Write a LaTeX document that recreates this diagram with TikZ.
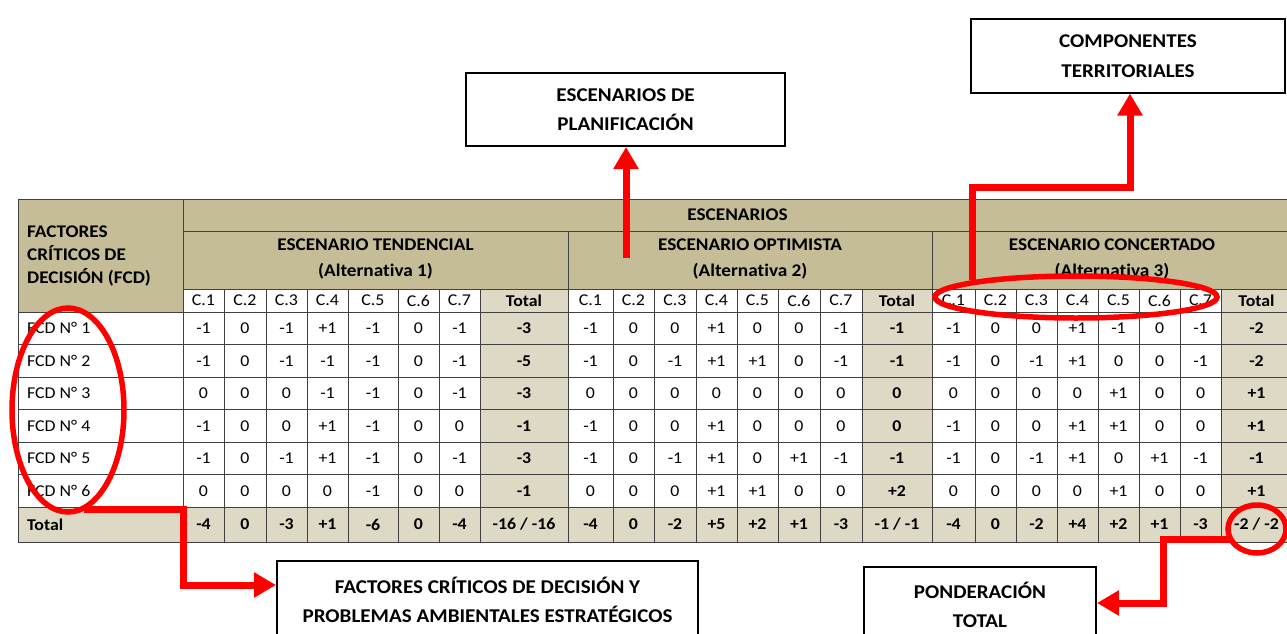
\documentclass[tikz,border=0pt]{standalone}
\usepackage{fontspec}
\setmainfont{Carlito}[FakeStretch=1.08,RawFeature=-liga]
\usetikzlibrary{arrows.meta,shapes.geometric,calc}
\definecolor{tandark}{HTML}{C4BD97}
\definecolor{tanlight}{HTML}{DDD9C4}
\definecolor{gridc}{HTML}{404040}
\definecolor{redm}{HTML}{FF0000}
\begin{document}
\begin{tikzpicture}[x=1pt,y=-1pt,
  cell/.style={font=\fontsize{16.5}{18}\selectfont, inner sep=0pt},
  bcell/.style={font=\bfseries\fontsize{16.5}{18}\selectfont, inner sep=0pt},
  hdr/.style={font=\bfseries\fontsize{17.8}{26}\selectfont, align=center, inner sep=0pt},
  callout/.style={draw=black, line width=2pt, fill=white, align=center, font=\bfseries\fontsize{19.5}{29.5}\selectfont, inner sep=0pt},
  ring/.style={draw=redm, line width=5.5pt, ellipse, inner sep=0pt},
  redarrow/.style={draw=redm, line width=7pt, -{Triangle[length=22pt,width=24pt]}},
  gridline/.style={draw=gridc, line width=1pt}]
\useasboundingbox (0,0) rectangle (1287,634);
\clip (0,0) rectangle (1287,634);
% fills
\fill[tandark] (18,199) rectangle (1292,289);
\fill[tandark] (18,289) rectangle (183,312);
\fill[white] (18,312) rectangle (183,507);
\fill[white] (183,289) rectangle (1292,507);
\fill[tanlight] (480,289) rectangle (568,507);
\fill[tanlight] (862,289) rectangle (932,507);
\fill[tanlight] (1221,289) rectangle (1292,507);
\fill[tanlight] (18,507) rectangle (1292,542);
% grid
\draw[gridline] (18,199) -- (1292,199);
\draw[gridline] (183,231) -- (1292,231);
\draw[gridline] (183,289) -- (1292,289);
\foreach \yy in {312,344.5,377,409.5,442,474.5,507,542}
  \draw[gridline] (18,\yy) -- (1292,\yy);
\draw[gridline] (18,199) -- (18,542);
\draw[gridline] (183,199) -- (183,542);
\draw[gridline] (568,231) -- (568,542);
\draw[gridline] (932,231) -- (932,542);
\foreach \xx in {224,266,307,348,398,439,480,613,654,696,737,778,820,862,975,1016,1057,1098,1139,1180,1221}
  \draw[gridline] (\xx,289) -- (\xx,542);
% header texts
\node[hdr, anchor=west, align=left, font=\bfseries\fontsize{17.8}{23}\selectfont] (fcdh) at (27,256) {FACTORES\\CRÍTICOS DE\\DECISIÓN (FCD)};
\node[hdr] (esc) at (737.5,215) {ESCENARIOS};
\node[hdr] (tend) at (375.5,259) {ESCENARIO TENDENCIAL\\(Alternativa 1)};
\node[hdr] (opt) at (750,259) {ESCENARIO OPTIMISTA\\(Alternativa 2)};
\node[hdr] (conc) at (1112,259) {ESCENARIO CONCERTADO\\(Alternativa 3)};
\def\xs{{203.5,245,286.5,327.5,373,418.5,459.5,524,590.5,633.5,675,716.5,757.5,799,841,897,953.5,995.5,1036.5,1077.5,1118.5,1159.5,1200.5,1256.5}}
% C row
\foreach \k in {0,...,23}{
  \pgfmathsetmacro\xx{\xs[\k]}
  \pgfmathtruncatemacro\cn{mod(\k,8)+1}
  \ifnum\cn=8
    \node[bcell] (h-\k) at (\xx,300.5) {Total};
  \else
    \node[cell] (h-\k) at (\xx,300.5) {C.\cn};
  \fi
}
% data rows
\foreach \vals [count=\r] in {
 {-1,0,-1,+1,-1,0,-1,-3,-1,0,0,+1,0,0,-1,-1,-1,0,0,+1,-1,0,-1,-2},
 {-1,0,-1,-1,-1,0,-1,-5,-1,0,-1,+1,+1,0,-1,-1,-1,0,-1,+1,0,0,-1,-2},
 {0,0,0,-1,-1,0,-1,-3,0,0,0,0,0,0,0,0,0,0,0,0,+1,0,0,+1},
 {-1,0,0,+1,-1,0,0,-1,-1,0,0,+1,0,0,0,0,-1,0,0,+1,+1,0,0,+1},
 {-1,0,-1,+1,-1,0,-1,-3,-1,0,-1,+1,0,+1,-1,-1,-1,0,-1,+1,0,+1,-1,-1},
 {0,0,0,0,-1,0,0,-1,0,0,0,+1,+1,0,0,+2,0,0,0,0,+1,0,0,+1}}{
  \pgfmathsetmacro\yy{312+32.5*(\r-0.5)}
  \node[cell, anchor=west] (f-\r) at (27,\yy) {FCD N° \r};
  \foreach \v [count=\k from 0] in \vals {
    \pgfmathsetmacro\xx{\xs[\k]}
    \pgfmathtruncatemacro\cn{mod(\k,8)+1}
    \ifnum\cn=8
      \node[bcell] (d-\r-\k) at (\xx,\yy) {\v};
    \else
      \node[cell] (d-\r-\k) at (\xx,\yy) {\v};
    \fi
  }
}
% total row
\node[bcell, anchor=west] (tot) at (27,524.5) {Total};
\foreach \v [count=\k from 0] in {-4,0,-3,+1,-6,0,-4,-16 / -16,-4,0,-2,+5,+2,+1,-3,-1 / -1,-4,0,-2,+4,+2,+1,-3,-2 / -2}{
  \pgfmathsetmacro\xx{\xs[\k]}
  \node[bcell] (t-\k) at (\xx,524.5) {\v};
}
% red rings
\node[ring, minimum width=112, minimum height=204] (e1) at (68,410) {};
\node[ring, minimum width=282, minimum height=42] (e2) at (1076,297) {};
\node[ring, minimum width=58, minimum height=48] (e3) at (1257,529) {};
% callout boxes
\node[callout, minimum width=421, minimum height=78] (b1) at (487.5,600) {FACTORES CRÍTICOS DE DECISIÓN Y\\PROBLEMAS AMBIENTALES ESTRATÉGICOS};
\node[callout, minimum width=232, minimum height=76] (b2) at (980,605) {PONDERACIÓN\\TOTAL};
\node[callout, minimum width=319, minimum height=73] (b3) at (625.5,109.5) {ESCENARIOS DE\\PLANIFICACIÓN};
\node[callout, minimum width=314, minimum height=73] (b4) at (1128,56) {COMPONENTES\\TERRITORIALES};
% arrows
\coordinate (p1) at (84,509);
\coordinate (q1) at (183,585);
\draw[redarrow] (p1) -| (q1) -- (q1 -| b1.west);
\coordinate (p3) at (626,258);
\draw[redarrow] (p3) -- (p3 |- b3.south);
\coordinate (p4) at (972,280);
\coordinate (q4) at (1130,187);
\draw[redarrow] (p4) |- (q4) -- (q4 |- b4.south);
\coordinate (p5) at (1232,539);
\coordinate (q5) at (1163,603);
\draw[redarrow] (p5) -| (q5) -- (q5 -| b2.east);
\end{tikzpicture}
\end{document}
